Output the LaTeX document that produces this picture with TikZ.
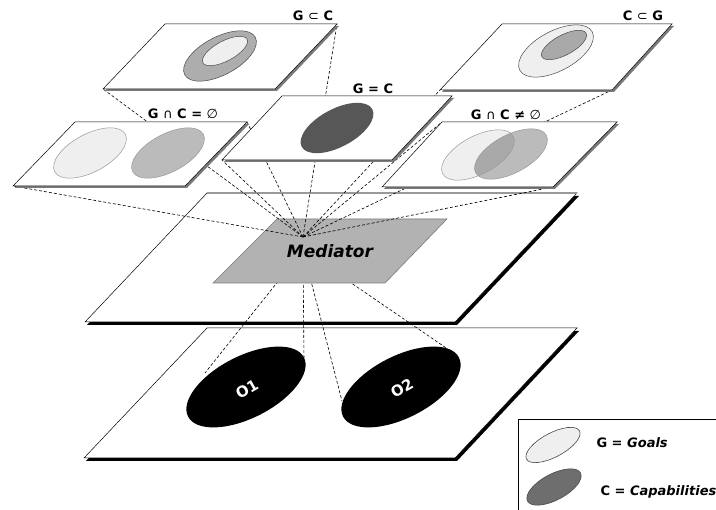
\documentclass[tikz,border=0pt]{standalone}
\usepackage{fontspec}
\setmainfont{DejaVu Sans}
\definecolor{goalfill}{HTML}{EFEFEF}
\definecolor{capfill}{HTML}{BBBBBB}
\definecolor{bothfill}{HTML}{A9A9A9}
\definecolor{samefill}{HTML}{575757}
\definecolor{medfill}{HTML}{B2B2B2}
\definecolor{rimgray}{HTML}{999999}
\definecolor{edgegray}{HTML}{4A4A4A}
\definecolor{shadegray}{HTML}{7A7A7A}
\definecolor{legcap}{HTML}{6E6E6E}

\begin{document}
\begin{tikzpicture}[
    x=1pt, y=-1pt,
    setplane/.style={fill=white, draw=black, line width=0.5pt},
    setshade/.style={fill=shadegray},
    layer/.style={fill=white, draw=black, line width=0.5pt},
    layershade/.style={fill=black},
    link/.style={black, line width=0.6pt, dash pattern=on 3pt off 2pt},
    setname/.style={font=\fontsize{13}{15}\selectfont\bfseries},
    legtext/.style={font=\fontsize{13}{15}\selectfont\bfseries, anchor=west},
  ]

  \useasboundingbox (0,0) rectangle (716,510);

  % end points of the dashed links
  \coordinate (hub) at (303,237);
  \coordinate (base) at (303,250);
  \coordinate (gsubc-sw) at (103,89);
  \coordinate (gsubc-ne) at (337,24);
  \coordinate (csubg-sw) at (440,90);
  \coordinate (csubg-se) at (612,90);
  \coordinate (disj-sw) at (13,186);
  \coordinate (disj-ne) at (247,122);
  \coordinate (same-sw) at (222,160);
  \coordinate (meet-nw) at (442,122);
  \coordinate (meet-se) at (553,187);
  \coordinate (o1-west) at (205,373);
  \coordinate (o1-east) at (304,362);
  \coordinate (o2-west) at (342,401);
  \coordinate (o2-ne) at (455,354);

  % === Source layer with O1 and O2 ===
  \fill[layershade, shift={(2,3)}] (207,328) -- (577,328) -- (455,458) -- (84,458) -- cycle;
  \filldraw[layer] (207,328) -- (577,328) -- (455,458) -- (84,458) -- cycle;
  \fill[black] (246,387) ellipse [x radius=65, y radius=31, rotate=27];
  \fill[black] (401,387) ellipse [x radius=65, y radius=31, rotate=27];
  \node[font=\fontsize{15}{17}\selectfont\bfseries, text=white, rotate=30] (o1) at (247,389) {O1};
  \node[font=\fontsize{15}{17}\selectfont\bfseries, text=white, rotate=30] (o2) at (402,388) {O2};

  % === Mediator layer ===
  \fill[layershade, shift={(2,3)}] (207,193) -- (577,193) -- (455,322) -- (85,322) -- cycle;
  \filldraw[layer] (207,193) -- (577,193) -- (455,322) -- (85,322) -- cycle;
  \draw[rimgray, line width=1.2pt] (207,193) -- (577,193);

  % links down to the sources
  \draw[link] (base) -- (o1-west);
  \draw[link] (base) -- (o1-east);
  \draw[link] (base) -- (o2-west);
  \draw[link] (base) -- (o2-ne);

  \filldraw[fill=medfill, draw=shadegray, line width=0.6pt]
    (277,219) -- (447,219) -- (385,283) -- (213,283) -- cycle;
  \node[font=\fontsize{17}{19}\selectfont\bfseries\itshape] (mediator) at (330,251) {Mediator};

  % links up to the set planes
  \foreach \corner in {disj-sw, gsubc-sw, same-sw, disj-ne, gsubc-ne,
                       csubg-sw, meet-nw, csubg-se, meet-se}
    \draw[link] (hub) -- (\corner);

  % === G subset of C ===
  \fill[setshade] (167,26) -- (339,26) -- (277,91) -- (105,91) -- cycle;
  \filldraw[setplane] (165,24) -- (337,24) -- (275,89) -- (103,89) -- cycle;
  \filldraw[fill=bothfill!95!white, draw=edgegray, line width=0.5pt]
    (220,56) ellipse [x radius=40, y radius=19, rotate=28];
  \filldraw[fill=goalfill, draw=edgegray, line width=0.5pt]
    (225,51) ellipse [x radius=25, y radius=10, rotate=28];
  \node[setname] (gsubc) at (313,16) {G \textmd{⊂} C};

  % === C subset of G ===
  \fill[setshade] (504,26) -- (674,26) -- (614,92) -- (442,92) -- cycle;
  \filldraw[setplane] (502,24) -- (672,24) -- (612,90) -- (440,90) -- cycle;
  \filldraw[fill=goalfill, draw=edgegray, line width=0.5pt]
    (556,51) ellipse [x radius=41, y radius=20, rotate=28];
  \filldraw[fill=bothfill, draw=edgegray, line width=0.5pt]
    (564,45) ellipse [x radius=25, y radius=10, rotate=28];
  \node[setname] (csubg) at (643,16) {C \textmd{⊂} G};

  % === disjoint ===
  \fill[setshade] (77,124) -- (249,124) -- (187,188) -- (15,188) -- cycle;
  \filldraw[setplane] (75,122) -- (247,122) -- (185,186) -- (13,186) -- cycle;
  \filldraw[fill=goalfill, draw=rimgray, line width=0.5pt]
    (90,153) ellipse [x radius=40, y radius=19, rotate=28];
  \filldraw[fill=capfill, draw=rimgray, line width=0.5pt]
    (168,153) ellipse [x radius=40, y radius=19, rotate=28];
  \node[setname] (disj) at (183,114) {G \textmd{∩} C = \textmd{∅}};

  % === equal ===
  \fill[setshade] (284,98) -- (454,98) -- (394,162) -- (224,162) -- cycle;
  \filldraw[setplane] (282,96) -- (452,96) -- (392,160) -- (222,160) -- cycle;
  \fill[samefill] (337,128) ellipse [x radius=40, y radius=19, rotate=28];
  \node[setname] (same) at (373,89) {G = C};

  % === overlapping ===
  \fill[setshade] (444,124) -- (619,124) -- (555,189) -- (384,189) -- cycle;
  \filldraw[setplane] (442,122) -- (617,122) -- (553,187) -- (382,187) -- cycle;
  \fill[goalfill] (478,155) ellipse [x radius=40, y radius=19, rotate=28];
  \fill[capfill] (511,154) ellipse [x radius=40, y radius=19, rotate=28];
  \begin{scope}
    \clip (478,155) ellipse [x radius=40, y radius=19, rotate=28];
    \fill[bothfill] (511,154) ellipse [x radius=40, y radius=19, rotate=28];
  \end{scope}
  \draw[rimgray, line width=0.5pt] (478,155) ellipse [x radius=40, y radius=19, rotate=28];
  \draw[rimgray, line width=0.5pt] (511,154) ellipse [x radius=40, y radius=19, rotate=28];
  \node[setname] (meet) at (506,115) {G \textmd{∩} C ≠ \textmd{∅}};

  % === Legend ===
  \draw[line width=0.6pt] (518,419) rectangle (740,530);
  \filldraw[fill=goalfill, draw=edgegray, line width=0.6pt]
    (553,445) ellipse [x radius=30, y radius=12, rotate=28];
  \filldraw[fill=legcap, draw=edgegray, line width=0.6pt]
    (554,487) ellipse [x radius=30, y radius=13, rotate=28];
  \node[legtext] (goals) at (593,443) {G = \textit{Goals}};
  \node[legtext] (caps) at (597,492) {C = \textit{Capabilities}};

\end{tikzpicture}
\end{document}
